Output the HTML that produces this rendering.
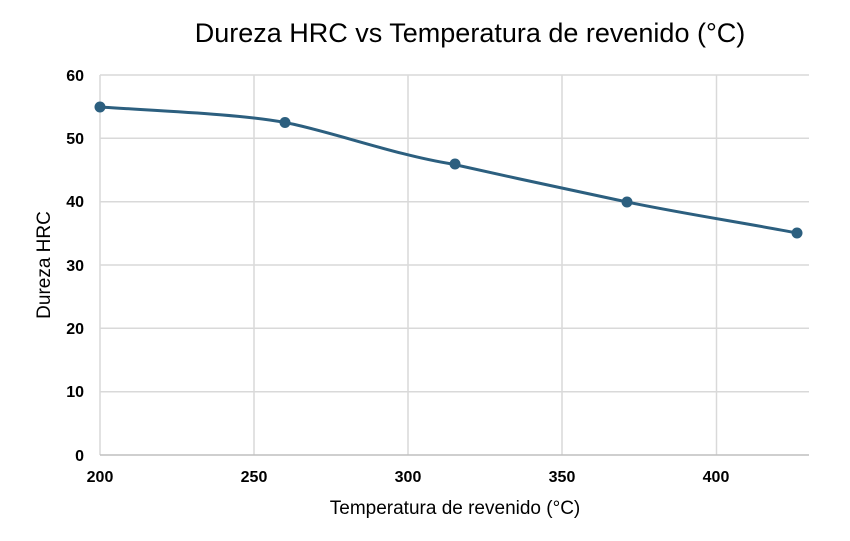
<!DOCTYPE html>
<html><head><meta charset="utf-8"><style>
body{margin:0;background:#fff}
svg{display:block;font-family:"Liberation Sans",sans-serif}
</style></head><body>
<svg width="850" height="541" viewBox="0 0 850 541" xmlns="http://www.w3.org/2000/svg">
<rect width="850" height="541" fill="#fff"/>
<g stroke="#d9d9d9" stroke-width="1.5">
<line x1="100" y1="75" x2="809" y2="75"/>
<line x1="100" y1="138.3" x2="809" y2="138.3"/>
<line x1="100" y1="201.7" x2="809" y2="201.7"/>
<line x1="100" y1="265" x2="809" y2="265"/>
<line x1="100" y1="328.3" x2="809" y2="328.3"/>
<line x1="100" y1="391.7" x2="809" y2="391.7"/>
<line x1="100" y1="75" x2="100" y2="455"/>
<line x1="254" y1="75" x2="254" y2="455"/>
<line x1="408" y1="75" x2="408" y2="455"/>
<line x1="562" y1="75" x2="562" y2="455"/>
<line x1="716.5" y1="75" x2="716.5" y2="455"/>
</g>
<line x1="100" y1="455" x2="809" y2="455" stroke="#bfbfbf" stroke-width="1.5"/>
<path d="M100,107 C160,111 240,114 285,122.5 C330,131 395,155 452,164 C510,177 570,190 627,202 C685,214 745,223 797,233" fill="none" stroke="#2c5f7f" stroke-width="3"/>
<g fill="#2c5f7f">
<circle cx="100" cy="107" r="5.5"/><circle cx="285" cy="122.5" r="5.5"/><circle cx="455" cy="164" r="5.5"/><circle cx="627" cy="202" r="5.5"/><circle cx="797" cy="233" r="5.5"/>
</g>
<g font-size="16" font-weight="bold" fill="#000" text-anchor="end">
<text x="84" y="81">60</text><text x="84" y="144">50</text><text x="84" y="207">40</text><text x="84" y="271">30</text><text x="84" y="334">20</text><text x="84" y="397">10</text><text x="84" y="461">0</text>
</g>
<g font-size="16" font-weight="bold" fill="#000" text-anchor="middle">
<text x="100" y="482">200</text><text x="254" y="482">250</text><text x="408" y="482">300</text><text x="562" y="482">350</text><text x="716" y="482">400</text>
</g>
<text x="455" y="514" font-size="19" text-anchor="middle">Temperatura de revenido (°C)</text>
<text transform="translate(50,265) rotate(-90)" font-size="19" text-anchor="middle">Dureza HRC</text>
<text x="470" y="42" font-size="27" text-anchor="middle">Dureza HRC vs Temperatura de revenido (°C)</text>
</svg>
</body></html>
